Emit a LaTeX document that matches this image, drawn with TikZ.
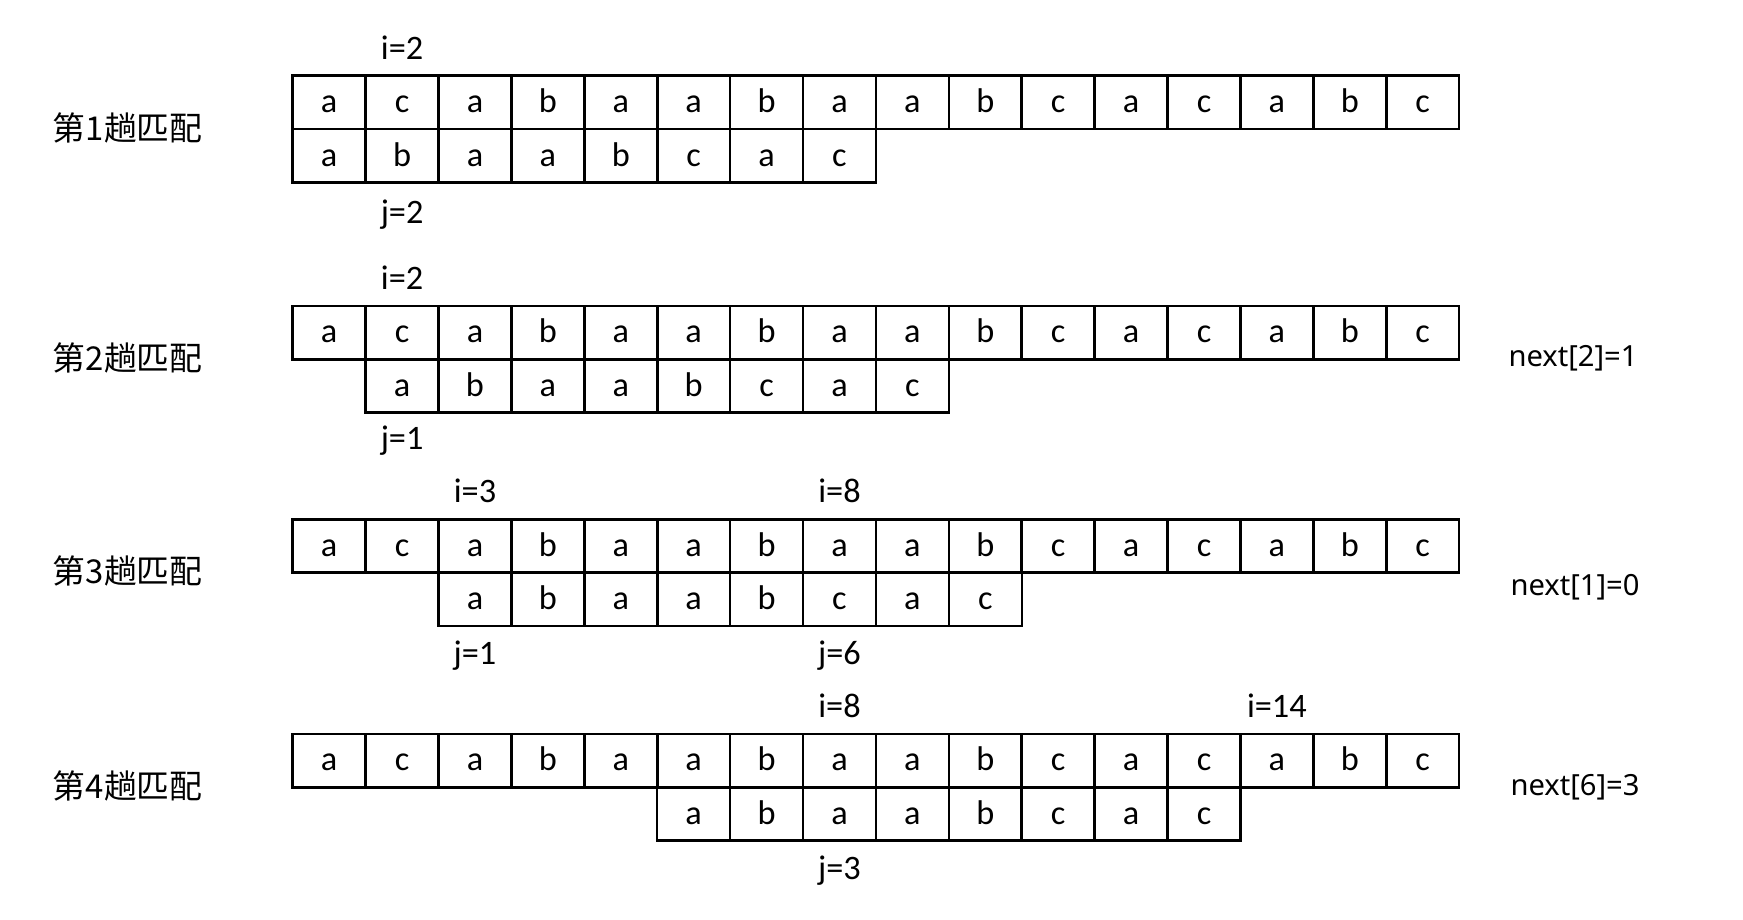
\documentclass[tikz,border=0pt]{standalone}
\usepackage{fontspec}
\setmainfont{Carlito}
\newfontfamily\cjk{Noto Sans CJK SC}
\newfontfamily\nxfont{Noto Sans}
\usetikzlibrary{positioning}

\begin{document}
\begin{tikzpicture}[x=0.35pt,y=-0.35pt,font=\fontsize{12}{14}\selectfont,
  cell/.style={draw,line width=0.9pt,minimum width=25.55pt,minimum height=18.7pt,inner sep=0pt,
    text height=0.82em,text depth=0.1em,anchor=north west},
  idx/.style={inner sep=0pt},
  pass/.style={font=\cjk\fontsize{11.5}{13}\selectfont},
  nx/.style={font=\nxfont\fontsize{10.2}{12}\selectfont}]
  \useasboundingbox (0,0) rectangle (1743,920);
  % text and pattern rows, pattern shifted by \o cells
  \foreach \r/\y/\o in {1/74.5/0,2/304.6/1,3/518/2,4/732.5/5}{
    \foreach \c [count=\k from 0] in {a,c,a,b,a,a,b,a,a,b,c,a,c,a,b,c}
      \node[cell] (s\r-\k) at ({291.4+72.9*\k},\y) {\c};
    \foreach \c [count=\k from 0] in {a,b,a,a,b,c,a,c}
      \node[cell] (p\r-\k) at ({291.4+72.9*(\k+\o)},{\y+53.4}) {\c};
  }
  % pass names
  \node[pass] (m1) at (127.8,127.8) {第1趟匹配};
  \node[pass] (m2) at (127.8,358) {第2趟匹配};
  \node[pass] (m3) at (127.8,571.4) {第3趟匹配};
  \node[pass] (m4) at (127.8,786) {第4趟匹配};
  % i and j
  \node[idx] (i1) at ([yshift=9.4pt]s1-1.north) {i=2};
  \node[idx] (j1) at ([yshift=-10.8pt]p1-1.south) {j=2};
  \node[idx] (i2) at ([yshift=9.4pt]s2-1.north) {i=2};
  \node[idx] (j2) at ([yshift=-9.5pt]p2-0.south) {j=1};
  \node[idx] (i3a) at ([yshift=9.4pt]s3-2.north) {i=3};
  \node[idx] (i3b) at ([yshift=9.4pt]s3-7.north) {i=8};
  \node[idx] (j3a) at ([yshift=-9.8pt]p3-0.south) {j=1};
  \node[idx] (j3b) at ([yshift=-9.8pt]p3-5.south) {j=6};
  \node[idx] (i4a) at ([yshift=9.4pt]s4-7.north) {i=8};
  \node[idx] (i4b) at ([yshift=9.4pt]s4-13.north) {i=14};
  \node[idx] (j4) at ([yshift=-10pt]p4-2.south) {j=3};
  % next values
  \node[nx] (n2) at (1573,358) {next[2]=1};
  \node[nx] (n3) at (1575,587) {next[1]=0};
  \node[nx] (n4) at (1575,787) {next[6]=3};
\end{tikzpicture}
\end{document}
